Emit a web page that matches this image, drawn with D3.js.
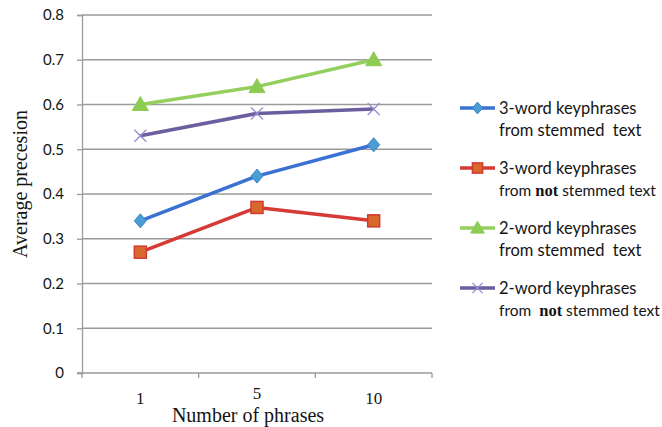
<!DOCTYPE html>
<html>
<head>
<meta charset="utf-8">
<script src="https://cdn.jsdelivr.net/npm/d3@7"></script>
<style>
  html, body { margin: 0; padding: 0; background: #fff; }
  svg { display: block; }
</style>
</head>
<body>
<svg id="chart" width="662" height="427"></svg>
<script>
// Categories on the x axis
const categories = ["1", "5", "10"];

// Average precision for each series
const stemmed3 = [0.34, 0.44, 0.51];
const notStemmed3 = [0.27, 0.37, 0.34];
const stemmed2 = [0.60, 0.64, 0.70];
const notStemmed2 = [0.53, 0.58, 0.59];

// Y axis ticks
const yTicks = [0, 0.1, 0.2, 0.3, 0.4, 0.5, 0.6, 0.7, 0.8];

const series = [
  { name: ["3-word keyphrases", "from stemmed  text"], values: stemmed3, line: "#3a72d4", fill: "#4a9ed4", stroke: "#3a86c8", marker: "diamond" },
  { name: ["3-word keyphrases", "from ", "not", " stemmed text"], values: notStemmed3, line: "#d63a35", fill: "#d8682c", stroke: "#d03a30", marker: "square" },
  { name: ["2-word keyphrases", "from stemmed  text"], values: stemmed2, line: "#93cf5c", fill: "#8ccc52", stroke: "#8ccc52", marker: "triangle" },
  { name: ["2-word keyphrases", "from  ", "not", " stemmed text"], values: notStemmed2, line: "#6c5e9e", fill: "none", stroke: "#9a8cd0", marker: "cross" }
];

const svg = d3.select("#chart");
const plot = { left: 82, right: 432, top: 15, bottom: 373 };

const x = d3.scaleBand().domain(categories).range([plot.left, plot.right]);
const y = d3.scaleLinear().domain([0, 0.8]).range([plot.bottom, plot.top]);

const sans = "Lato, 'Open Sans', sans-serif";
const serif = "'Liberation Serif', 'Times New Roman', serif";
const ink = "#141414";

// Horizontal gridlines
svg.append("g").selectAll("line").data(yTicks.filter(d => d > 0)).join("line")
  .attr("x1", plot.left).attr("x2", plot.right)
  .attr("y1", d => y(d)).attr("y2", d => y(d))
  .attr("stroke", "#9a9a9a").attr("stroke-width", 1.3);

// Y axis
const yAxis = svg.append("g").attr("transform", `translate(${plot.left},0)`)
  .call(d3.axisLeft(y).tickValues(yTicks).tickSize(5).tickPadding(13).tickFormat(d => d === 0 ? "0" : d3.format(".1f")(d)));
yAxis.select(".domain").attr("stroke", "#9a9a9a").attr("stroke-width", 1.3);
yAxis.selectAll(".tick line").attr("stroke", "#9a9a9a").attr("stroke-width", 1.3);
yAxis.selectAll(".tick text").attr("font-family", sans).attr("font-size", 15).attr("fill", ink);

// X axis with tick marks at band edges
const xAxisG = svg.append("g");
xAxisG.append("line").attr("x1", plot.left - 5).attr("x2", plot.right)
  .attr("y1", plot.bottom).attr("y2", plot.bottom)
  .attr("stroke", "#9a9a9a").attr("stroke-width", 1.3);
const edges = categories.map(c => x(c)).concat([x(categories[categories.length - 1]) + x.bandwidth()]);
xAxisG.selectAll("line.edge").data(edges).join("line").attr("class", "edge")
  .attr("x1", d => d).attr("x2", d => d)
  .attr("y1", plot.bottom).attr("y2", plot.bottom + 5)
  .attr("stroke", "#9a9a9a").attr("stroke-width", 1.3);
xAxisG.selectAll("text").data(categories).join("text")
  .attr("x", d => x(d) + x.bandwidth() / 2)
  .attr("y", (d, i) => i === 1 ? 399 : 404)
  .attr("text-anchor", "middle")
  .attr("font-family", serif).attr("font-size", 17).attr("fill", ink)
  .text(d => d);

// Axis titles
svg.append("text").attr("x", 248).attr("y", 422).attr("text-anchor", "middle")
  .attr("font-family", serif).attr("font-size", 20).attr("fill", ink)
  .text("Number of phrases");
svg.append("text").attr("transform", "translate(27,184) rotate(-90)").attr("text-anchor", "middle")
  .attr("font-family", serif).attr("font-size", 20).attr("fill", ink)
  .text("Average precesion");

// Marker drawing
function drawMarker(g, type, s, cx, cy, k = 1) {
  if (type === "diamond") {
    g.append("path").attr("d", `M${cx},${cy - 7 * k}L${cx + 6 * k},${cy}L${cx},${cy + 7 * k}L${cx - 6 * k},${cy}Z`)
      .attr("fill", s.fill).attr("stroke", s.stroke).attr("stroke-width", 1);
  } else if (type === "square") {
    g.append("rect").attr("x", cx - 6 * k).attr("y", cy - 6 * k).attr("width", 12 * k).attr("height", 12 * k)
      .attr("fill", s.fill).attr("stroke", s.stroke).attr("stroke-width", 1.5);
  } else if (type === "triangle") {
    g.append("path").attr("d", `M${cx},${cy - 8 * k}L${cx + 8 * k},${cy + 6 * k}L${cx - 8 * k},${cy + 6 * k}Z`)
      .attr("fill", s.fill).attr("stroke", s.stroke).attr("stroke-width", 1);
  } else if (type === "cross") {
    g.append("path").attr("d", `M${cx - 6 * k},${cy - 6 * k}L${cx + 6 * k},${cy + 6 * k}M${cx - 6 * k},${cy + 6 * k}L${cx + 6 * k},${cy - 6 * k}`)
      .attr("stroke", s.stroke).attr("stroke-width", 1.3).attr("fill", "none");
  }
}

// Series lines and markers
const line = d3.line().x((d, i) => x(categories[i]) + x.bandwidth() / 2).y(d => y(d));
series.forEach(s => {
  const g = svg.append("g");
  g.append("path").datum(s.values).attr("d", line)
    .attr("fill", "none").attr("stroke", s.line).attr("stroke-width", 3.5)
    .attr("stroke-linejoin", "round");
  s.values.forEach((v, i) => drawMarker(g, s.marker, s, x(categories[i]) + x.bandwidth() / 2, y(v)));
});

// Legend
const legend = svg.append("g");
series.forEach((s, i) => {
  const ly = 108 + i * 60;
  const g = legend.append("g");
  g.append("line").attr("x1", 460).attr("x2", 495).attr("y1", ly).attr("y2", ly)
    .attr("stroke", s.line).attr("stroke-width", 3.5);
  drawMarker(g, s.marker, s, 477.5, ly, 0.85);
  g.append("text").attr("x", 499).attr("y", ly + 6)
    .attr("font-family", sans).attr("font-size", 16.5).attr("fill", ink)
    .text(s.name[0]);
  // The longer "not" lines use a slightly smaller size so they stay inside the frame
  const long = s.name.length > 2;
  const t2 = g.append("text").attr("x", 499).attr("y", ly + 28)
    .attr("font-family", sans).attr("font-size", long ? 15.5 : 16.5).attr("fill", ink)
    .attr("xml:space", "preserve").style("white-space", "pre");
  s.name.slice(1).forEach(part => {
    const ts = t2.append("tspan").text(part);
    if (part === "not") ts.attr("font-family", serif).attr("font-size", 16.5).attr("font-weight", "bold");
  });
});
</script>
</body>
</html>
